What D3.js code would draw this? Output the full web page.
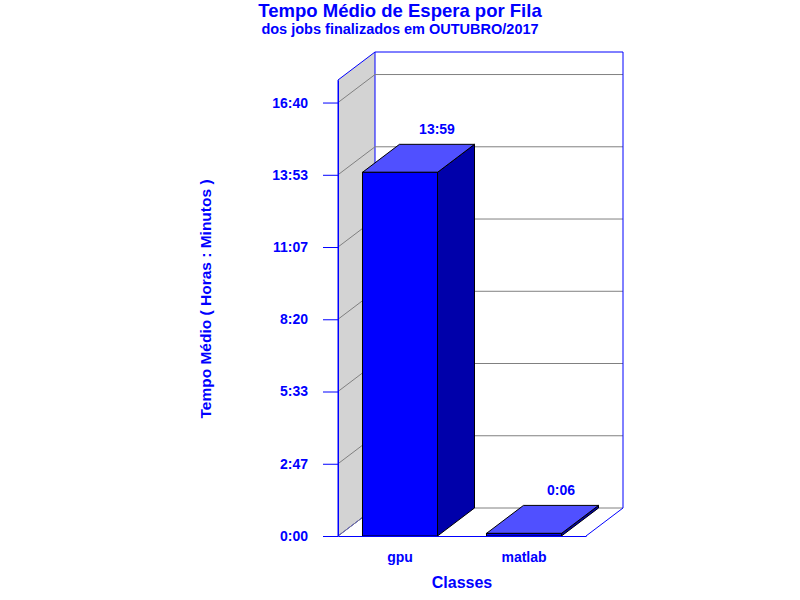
<!DOCTYPE html>
<html>
<head>
<meta charset="utf-8">
<script src="https://cdn.jsdelivr.net/npm/d3@7"></script>
<style>
  body { margin:0; background:#fff; }
  text { font-family: Arial, "Liberation Sans", sans-serif; font-weight:bold; fill:#0000FF; }
</style>
</head>
<body>
<div id="chart"></div>
<script>
// data (minutes)
var categories = ['gpu','matlab'];
var values = [839, 6];
var valueLabels = ['13:59','0:06'];
var tickValues = [0, 166.67, 333.33, 500, 666.67, 833.33, 1000];
var tickLabels = ['0:00','2:47','5:33','8:20','11:07','13:53','16:40'];

var DX = 37, DY = -28; // 3d depth

var svg = d3.select('#chart')
  .append('svg')
  .attr('width',800)
  .attr('height',600);

var y = d3.scaleLinear()
  .domain([0,1052])
  .range([536,80]);

var x = d3.scaleBand()
  .domain(categories)
  .range([338,586])
  .paddingInner(0.395)
  .paddingOuter(0.1975);

var x0 = x.range()[0], x1 = x.range()[1];
var yTop = y.range()[1], yBot = y.range()[0];

//left wall
svg.append('polygon')
  .attr('points',[[x0,yBot],[x0,yTop],[x0+DX,yTop+DY],[x0+DX,yBot+DY]].join(' '))
  .style('fill','#D3D3D3')
  .style('stroke','#0000FF');

//gridlines (side + back)
tickValues.forEach(function(t){
  var yy = y(t);
  svg.append('polyline')
    .attr('points',[[x0,yy],[x0+DX,yy+DY],[x1+DX,yy+DY]].join(' '))
    .style('fill','none')
    .style('stroke','#808080');
});

//back wall frame
svg.append('polyline')
  .attr('points',[[x0+DX,yTop+DY],[x1+DX,yTop+DY],[x1+DX,yBot+DY],[x1,yBot]].join(' '))
  .style('fill','none')
  .style('stroke','#0000FF');

//bars
var bars = svg.selectAll('.bar')
  .data(categories)
  .enter()
  .append('g')
  .attr('class','bar');

bars.each(function(c,i){
  var g = d3.select(this),
      bx = x(c), bw = x.bandwidth(),
      by = y(values[i]);

  //right side
  g.append('polygon')
    .attr('points',[[bx+bw,yBot],[bx+bw,by],[bx+bw+DX,by+DY],[bx+bw+DX,yBot+DY]].join(' '))
    .style('fill','#0000AA')
    .style('stroke','#000')
    .style('stroke-linejoin','round');
  //top
  g.append('polygon')
    .attr('points',[[bx,by],[bx+DX,by+DY],[bx+bw+DX,by+DY],[bx+bw,by]].join(' '))
    .style('fill','#5050FF')
    .style('stroke','#000')
    .style('stroke-linejoin','round');
  //front
  g.append('rect')
    .attr('x',bx)
    .attr('y',by)
    .attr('width',bw)
    .attr('height',yBot-by)
    .style('fill','#0000FF')
    .style('stroke','#000');

  g.append('text')
    .attr('x',bx+bw/2+DX)
    .attr('y',by+DY-10)
    .attr('text-anchor','middle')
    .style('font-size','14px')
    .text(valueLabels[i]);
});

//axis Y
var axisY = d3.axisLeft(y)
  .tickValues(tickValues)
  .tickFormat(function(d,i){ return tickLabels[i]; })
  .tickSize(15)
  .tickSizeOuter(0)
  .tickPadding(15);

svg.append('g')
  .attr('class','axisY')
  .attr('transform','translate('+x0+',0)')
  .call(axisY);

//axis X
var axisX = d3.axisBottom(x)
  .tickSize(0)
  .tickPadding(16);

svg.append('g')
  .attr('class','axisX')
  .attr('transform','translate(0,'+yBot+')')
  .call(axisX);

svg.selectAll('.axisY path, .axisY line, .axisX path, .axisX line')
  .style('stroke','#0000FF');
svg.selectAll('.axisY text, .axisX text')
  .style('font-family','Arial, "Liberation Sans", sans-serif')
  .style('font-weight','bold')
  .style('font-size','14px')
  .style('fill','#0000FF');

//titles
svg.append('text')
  .attr('x',400).attr('y',17)
  .attr('text-anchor','middle')
  .style('font-size','18.5px')
  .text('Tempo Médio de Espera por Fila');

svg.append('text')
  .attr('x',400).attr('y',34)
  .attr('text-anchor','middle')
  .style('font-size','14.5px')
  .text('dos jobs finalizados em OUTUBRO/2017');

svg.append('text')
  .attr('x',(x0+x1)/2).attr('y',588)
  .attr('text-anchor','middle')
  .style('font-size','16px')
  .text('Classes');

svg.append('text')
  .attr('transform','translate(211,299)rotate(-90)')
  .attr('text-anchor','middle')
  .style('font-size','15.5px')
  .text('Tempo Médio ( Horas : Minutos )');
</script>
</body>
</html>
